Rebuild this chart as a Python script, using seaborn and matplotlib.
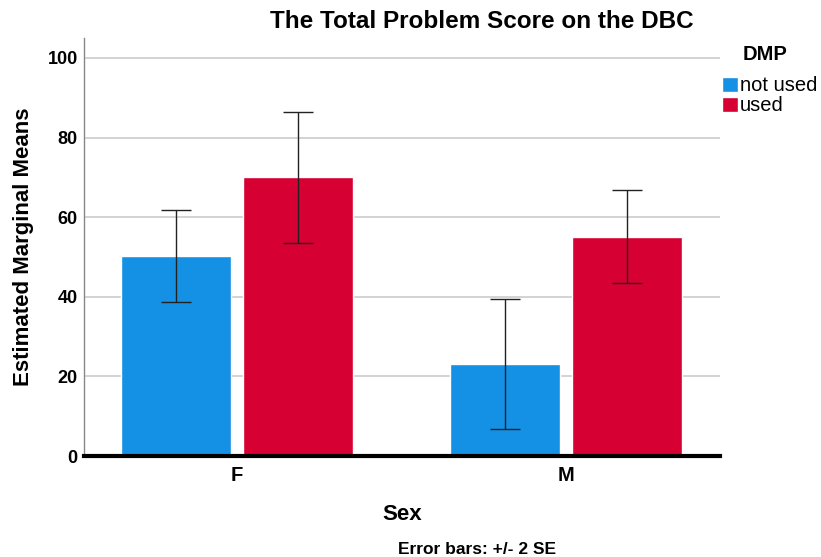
import pandas as pd
import numpy as np
import seaborn as sns
import matplotlib.pyplot as plt

sex = ['F', 'M']
dmp = ['not used', 'used']
means_not_used = [50.2, 23.1]
means_used = [70.0, 55.1]
err_not_used = [11.6, 16.3]  # 2 SE
err_used = [16.4, 11.6]

df = pd.DataFrame({
    'Sex': sex * 2,
    'DMP': [dmp[0]] * 2 + [dmp[1]] * 2,
    'mean': means_not_used + means_used,
    'err': err_not_used + err_used,
})

sns.set_theme(style='white')
plt.rcParams['font.family'] = ['Liberation Sans', 'DejaVu Sans']
plt.rcParams['text.color'] = 'black'
plt.rcParams['axes.labelcolor'] = 'black'
plt.rcParams['xtick.color'] = 'black'
plt.rcParams['ytick.color'] = 'black'

fig = plt.figure(figsize=(8.21, 5.57), dpi=100)
ax = fig.add_axes([0.1023, 0.1813, 0.7747, 0.7505])

palette = {'not used': '#1490E4', 'used': '#D60032'}
sns.barplot(data=df, x='Sex', y='mean', hue='DMP', order=sex, hue_order=dmp,
            palette=palette, width=0.74, gap=0.1, errorbar=None, saturation=1,
            ax=ax, legend=True, zorder=2)

# error bars at the centre of each bar (patches are in hue order, then category)
for patch, (_, row) in zip(ax.patches, df.iterrows()):
    cx = patch.get_x() + patch.get_width() / 2
    ax.errorbar(cx, row['mean'], yerr=row['err'], color='#222222', lw=1,
                capsize=11, capthick=1, zorder=3)

ax.set_ylim(0, 105)
ax.set_xlim(-0.465, 1.468)
ax.set_yticks([0, 20, 40, 60, 80, 100])
ax.yaxis.grid(True, color='#cccccc', lw=1.2, zorder=0)
ax.set_axisbelow(True)
ax.tick_params(axis='y', length=0, pad=4.5, labelsize=13)
ax.tick_params(axis='x', length=0, pad=7, labelsize=14.5)
for lab in ax.get_yticklabels() + ax.get_xticklabels():
    lab.set_fontweight('bold')

for s in ['top', 'right']:
    ax.spines[s].set_visible(False)
ax.spines['left'].set_color('#888888')
ax.spines['left'].set_linewidth(1)
ax.spines['bottom'].set_color('black')
ax.spines['bottom'].set_linewidth(3)

ax.set_xlabel('Sex', fontsize=16, fontweight='bold', labelpad=14)
ax.set_ylabel('Estimated Marginal Means', fontsize=16, fontweight='bold', labelpad=10)

fig.text(482 / 821, 1 - 22 / 557, 'The Total Problem Score on the DBC',
         ha='center', va='center', fontsize=17.5, fontweight='bold')
fig.text(477 / 821, 1 - 550 / 557, 'Error bars: +/- 2 SE',
         ha='center', va='center', fontsize=12.5, fontweight='bold')

# legend title drawn separately so there is a gap under it
fig.text(765 / 821, 1 - 54 / 557, 'DMP', ha='center', va='center',
         fontsize=14.5, fontweight='bold')
leg = ax.legend(loc='upper left', bbox_to_anchor=(1.003, 0.908),
                frameon=False, fontsize=14.5,
                handlelength=0.8, handleheight=0.8, handletextpad=0.1,
                labelspacing=0.05, borderaxespad=0, borderpad=0)

fig.savefig('out.png', dpi=100)
